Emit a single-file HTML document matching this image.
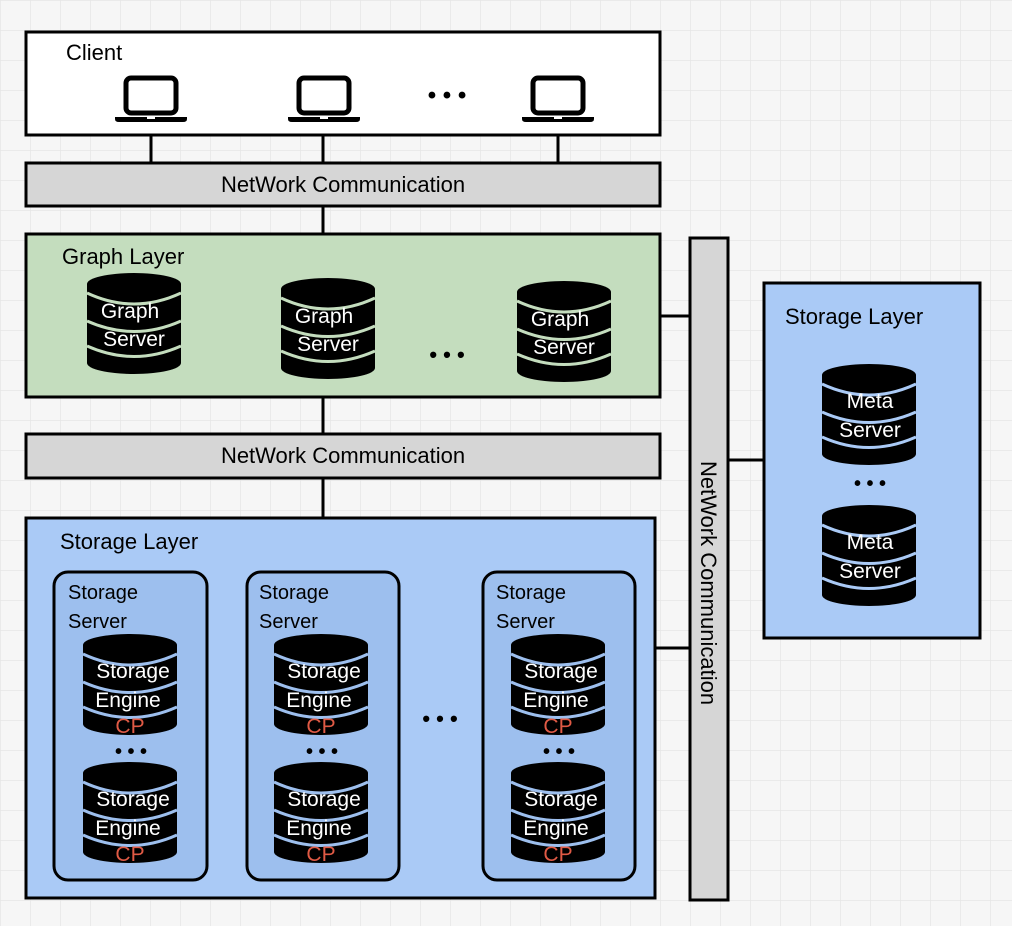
<!DOCTYPE html>
<html><head><meta charset="utf-8"><style>
body{margin:0;width:1012px;height:926px;overflow:hidden;background:#f6f6f6}
svg{display:block}
text{font-family:"Liberation Sans",sans-serif}
</style></head><body>
<svg width="1012" height="926" viewBox="0 0 1012 926" xmlns="http://www.w3.org/2000/svg">
<defs>
<pattern id="grid" width="30" height="30" patternUnits="userSpaceOnUse">
<path d="M30 0H0V30" fill="none" stroke="#e6e6e6" stroke-width="1.5"/>
</pattern>
<symbol id="cyl" viewBox="0 0 96 104" width="96" height="104">
<path d="M1,12 L1,91 A47,11 0 0 0 95,91 L95,12 Z" fill="#000"/>
<ellipse cx="48" cy="12" rx="47" ry="11" fill="#000"/>
<path d="M1,21 Q48,43 95,21" fill="none" stroke="currentColor" stroke-width="3"/>
<path d="M1,49 Q48,70 95,49" fill="none" stroke="currentColor" stroke-width="3"/>
<path d="M1,74 Q48,95 95,74" fill="none" stroke="currentColor" stroke-width="3"/>
</symbol>
<symbol id="lap" viewBox="0 0 72 48" width="72" height="48">
<rect x="11" y="3" width="50" height="35" rx="5" fill="none" stroke="#000" stroke-width="5"/>
<path d="M0,42 H72 V44 Q72,47 68,47 H4 Q0,47 0,44Z" fill="#000"/>
<rect x="32" y="42" width="8" height="2" fill="#fff"/>
</symbol>
</defs>
<rect width="1012" height="926" fill="url(#grid)"/>
<g stroke="#000" stroke-width="3">
<line x1="151" y1="135" x2="151" y2="163"/><line x1="323" y1="135" x2="323" y2="163"/><line x1="558" y1="135" x2="558" y2="163"/>
<line x1="323" y1="206" x2="323" y2="234"/><line x1="323" y1="397" x2="323" y2="434"/><line x1="323" y1="478" x2="323" y2="518"/>
<line x1="660" y1="316" x2="690" y2="316"/><line x1="655" y1="648" x2="690" y2="648"/><line x1="728" y1="460" x2="764" y2="460"/>
</g>
<rect x="26" y="32" width="634" height="103" fill="#fff" stroke="#000" stroke-width="3"/>
<text x="66" y="60" font-size="22">Client</text>
<use href="#lap" x="115" y="75"/><use href="#lap" x="288" y="75"/><use href="#lap" x="522" y="75"/>
<text x="447" y="103" font-size="24" text-anchor="middle" font-weight="bold">• • •</text>
<rect x="26" y="163" width="634" height="43" fill="#d6d6d6" stroke="#000" stroke-width="3"/>
<text x="343" y="192" font-size="22" text-anchor="middle">NetWork Communication</text>
<rect x="26" y="234" width="634" height="163" fill="#c4ddbe" stroke="#000" stroke-width="3"/>
<text x="62" y="264" font-size="22">Graph Layer</text>
<g color="#c4ddbe">
<use href="#cyl" x="86" y="272"/><use href="#cyl" x="280" y="277"/><use href="#cyl" x="516" y="280"/>
</g>
<g fill="#fff" font-size="21" text-anchor="middle">
<text x="130" y="318">Graph</text><text x="134" y="346">Server</text>
<text x="324" y="323">Graph</text><text x="328" y="351">Server</text>
<text x="560" y="326">Graph</text><text x="564" y="354">Server</text>
</g>
<text x="447" y="362" font-size="22" text-anchor="middle" font-weight="bold">• • •</text>
<rect x="26" y="434" width="634" height="44" fill="#d6d6d6" stroke="#000" stroke-width="3"/>
<text x="343" y="463" font-size="22" text-anchor="middle">NetWork Communication</text>
<rect x="26" y="518" width="629" height="380" fill="#aacaf6" stroke="#000" stroke-width="3"/>
<text x="60" y="549" font-size="22">Storage Layer</text>
<g fill="#9dbfee" stroke="#000" stroke-width="3">
<rect x="54" y="572" width="153" height="308" rx="14"/>
<rect x="247" y="572" width="152" height="308" rx="14"/>
<rect x="483" y="572" width="152" height="308" rx="14"/>
</g>
<g font-size="20">
<text x="68" y="599">Storage</text><text x="68" y="628">Server</text>
<text x="259" y="599">Storage</text><text x="259" y="628">Server</text>
<text x="496" y="599">Storage</text><text x="496" y="628">Server</text>
</g>
<g color="#9dbfee">
<use href="#cyl" x="82" y="633"/><use href="#cyl" x="82" y="761"/>
<use href="#cyl" x="273" y="633"/><use href="#cyl" x="273" y="761"/>
<use href="#cyl" x="510" y="633"/><use href="#cyl" x="510" y="761"/>
</g>
<g font-size="21" text-anchor="middle">
<g fill="#fff">
<text x="133" y="678">Storage</text><text x="128" y="707">Engine</text>
<text x="133" y="806">Storage</text><text x="128" y="835">Engine</text>
<text x="324" y="678">Storage</text><text x="319" y="707">Engine</text>
<text x="324" y="806">Storage</text><text x="319" y="835">Engine</text>
<text x="561" y="678">Storage</text><text x="556" y="707">Engine</text>
<text x="561" y="806">Storage</text><text x="556" y="835">Engine</text>
</g>
<g fill="#e05a45">
<text x="130" y="733">CP</text><text x="130" y="861">CP</text>
<text x="321" y="733">CP</text><text x="321" y="861">CP</text>
<text x="558" y="733">CP</text><text x="558" y="861">CP</text>
</g>
<g font-weight="bold" fill="#000" font-size="20">
<text x="131" y="758">• • •</text><text x="322" y="758">• • •</text><text x="559" y="758">• • •</text>
<text x="440" y="726" font-size="22">• • •</text>
</g>
</g>
<rect x="690" y="238" width="38" height="662" fill="#d6d6d6" stroke="#000" stroke-width="3"/>
<text transform="translate(701,583) rotate(90)" font-size="22" text-anchor="middle">NetWork Communication</text>
<rect x="764" y="283" width="216" height="355" fill="#aacaf6" stroke="#000" stroke-width="3"/>
<text x="785" y="324" font-size="22">Storage Layer</text>
<g color="#aacaf6"><use href="#cyl" x="821" y="363"/><use href="#cyl" x="821" y="504"/></g>
<g fill="#fff" font-size="21" text-anchor="middle">
<text x="870" y="408">Meta</text><text x="870" y="437">Server</text>
<text x="870" y="549">Meta</text><text x="870" y="578">Server</text>
</g>
<text x="870" y="490" font-size="20" font-weight="bold" text-anchor="middle">• • •</text>
</svg>
</body></html>
